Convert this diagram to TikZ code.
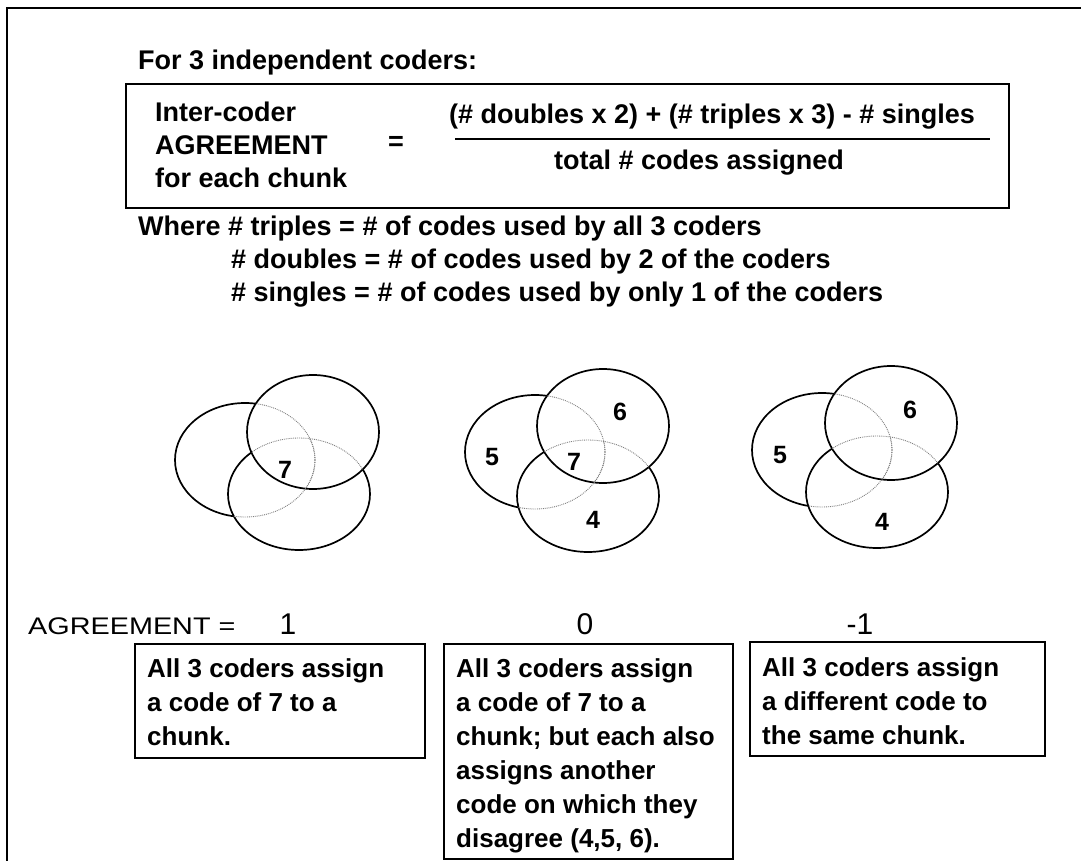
\documentclass[tikz,border=0pt]{standalone}
\usepackage{fontspec}
\setmainfont{Liberation Sans}
\newfontfamily\widesans{Liberation Sans}[FakeStretch=1.2]

\begin{document}
\begin{tikzpicture}[
  x=1pt, y=-1pt,
  frame/.style={line width=1.6pt},
  panel/.style={draw, line width=1.9pt, inner sep=0pt, anchor=north west},
  bigtxt/.style={font=\bfseries\fontsize{27}{33}\selectfont, inner sep=0pt},
  boxtxt/.style={font=\bfseries\fontsize{26}{34}\selectfont, inner sep=0pt, align=left, anchor=north west},
  venn/.style={line width=1.7pt},
  hidden/.style={gray, densely dotted, line width=0.9pt},
  digit/.style={font=\bfseries\fontsize{25}{25}\selectfont, inner sep=0pt},
  score/.style={font=\fontsize{30}{30}\selectfont, inner sep=0pt, anchor=base},
]
\useasboundingbox (0,0) rectangle (1081,861);

% outer frame (only top and left edges fall inside the page)
\coordinate (frBL) at (7,861);
\coordinate (frTL) at (7,8);
\coordinate (frTR) at (1081,8);
\draw[frame] (frBL) -- (frTL) -- (frTR);

% heading
\node[bigtxt, anchor=base west] (head) at (138,70) {For 3 independent coders:};

% formula box
\node[panel, minimum width=883pt, minimum height=124pt] (fbox) at (125,83) {};
\node[bigtxt, align=left, anchor=north west] (lhs) at (155,102)
  {Inter-coder\\AGREEMENT\\for each chunk};
\node[bigtxt] (eq) at (396,143) {=};
\node[bigtxt, anchor=base] (num) at (712,124)
  {(\# doubles x 2) + (\# triples x 3) - \# singles};
\node[bigtxt, anchor=base] (den) at (699,170) {total \# codes assigned};
\coordinate (fracL) at (455,139);
\coordinate (fracR) at (990,139);
\draw[line width=1.6pt] (fracL) -- (fracR);

% definitions
\node[bigtxt, anchor=base west] (defT) at (138,235)
  {Where \# triples = \# of codes used by all 3 coders};
\node[bigtxt, anchor=base west] (defD) at (231,268)
  {\# doubles = \# of codes used by 2 of the coders};
\node[bigtxt, anchor=base west] (defS) at (231,301)
  {\# singles = \# of codes used by only 1 of the coders};

% three-set diagrams: left set, bottom set, top set (top set drawn in front)
\foreach \i/\tx/\ty/\lx/\ly/\bx/\by in
  {1/313/432/245/460/299/494, 2/603/426/535/452/588/496, 3/891/423/822/450/877/492}{
  \coordinate (top\i) at (\tx,\ty);
  \coordinate (left\i) at (\lx,\ly);
  \coordinate (bot\i) at (\bx,\by);
  \draw[venn] (left\i) ellipse [x radius=70, y radius=57];
  \filldraw[venn, fill=white] (bot\i) ellipse [x radius=71, y radius=56];
  \filldraw[venn, fill=white] (top\i) ellipse [x radius=66, y radius=57];
  \begin{scope}
    \clip (top\i) ellipse [x radius=66, y radius=57];
    \draw[hidden] (left\i) ellipse [x radius=70, y radius=57];
    \draw[hidden] (bot\i) ellipse [x radius=71, y radius=56];
  \end{scope}
  \begin{scope}
    \clip (bot\i) ellipse [x radius=71, y radius=56];
    \draw[hidden] (left\i) ellipse [x radius=70, y radius=57];
  \end{scope}
}

% code numbers inside the sets
\node[digit] (d1c) at (285,470) {7};
\node[digit] (d2l) at (492,457) {5};
\node[digit] (d2t) at (620,412) {6};
\node[digit] (d2c) at (574,462) {7};
\node[digit] (d2b) at (593,520) {4};
\node[digit] (d3l) at (780,455) {5};
\node[digit] (d3t) at (910,410) {6};
\node[digit] (d3b) at (882,522) {4};

% agreement values
\node[font=\widesans\fontsize{24}{24}\selectfont, inner sep=0pt, anchor=base west] (agr) at (28,634) {AGREEMENT =};
\node[score] (s1) at (288,634) {1};
\node[score] (s2) at (585,634) {0};
\node[score] (s3) at (860,634) {-1};

% explanation boxes
\node[panel, minimum width=290pt, minimum height=114pt] (box1) at (134,643) {};
\node[panel, minimum width=289pt, minimum height=215pt] (box2) at (443,643) {};
\node[panel, minimum width=295pt, minimum height=114pt] (box3) at (749,641) {};

\node[boxtxt] (txt1) at ([shift={(13,15)}]box1.north west)
  {All 3 coders assign\\a code of 7 to a\\chunk.};
\node[boxtxt] (txt2) at ([shift={(13,15)}]box2.north west)
  {All 3 coders assign\\a code of 7 to a\\chunk; but each also\\assigns another\\code on which they\\disagree (4,5, 6).};
\node[boxtxt] (txt3) at ([shift={(13,16)}]box3.north west)
  {All 3 coders assign\\a different code to\\the same chunk.};
\end{tikzpicture}
\end{document}
